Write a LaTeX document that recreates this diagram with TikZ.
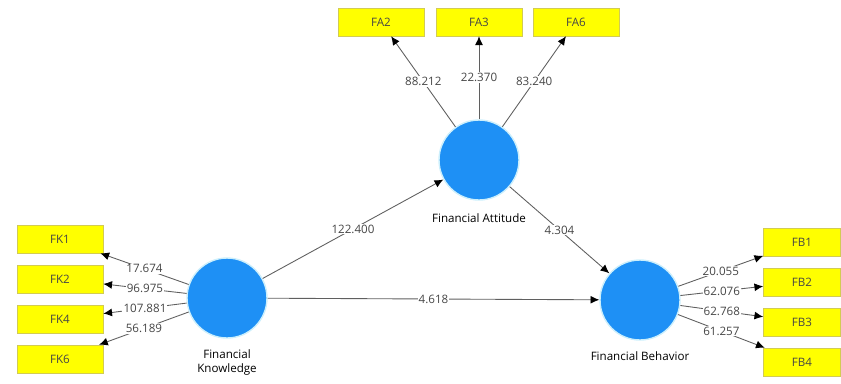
\documentclass[tikz,border=0pt]{standalone}
\usepackage{fontspec}
\setmainfont{Open Sans}
\usepackage{tikz}
\usetikzlibrary{arrows.meta}

\definecolor{lvblue}{RGB}{30,144,245}
\definecolor{itemyellow}{RGB}{255,255,0}
\definecolor{linegray}{RGB}{95,95,95}
\definecolor{textgray}{RGB}{70,70,70}

\tikzset{
  latent/.style={circle, fill=lvblue, draw=cyan!20, line width=0.8pt,
                 minimum size=1.6cm, inner sep=0pt, text=textgray},
  indicator/.style={rectangle, fill=itemyellow, draw=yellow!60!gray, line width=0.3pt,
                    minimum width=1.72cm, minimum height=0.56cm, inner sep=0pt, text=textgray},
  loading/.style={draw=linegray, line width=0.5pt, -{Latex[length=5pt,width=4.5pt,black]}},
  coef/.style={midway, fill=white, inner sep=0.6pt, text=textgray}
}

\begin{document}
\begin{tikzpicture}[x=0.02cm, y=-0.02cm, font=\fontsize{6.6}{7.7}\selectfont]
        \useasboundingbox (0,0) rectangle (841,383);                       %
        \node [latent, label={[label distance=0.14cm]below:Financial Attitude}]  (fa) at (479,160) {};
        \node [latent, label={[label distance=0.1cm, align=center]below:Financial\\Knowledge}] (fk) at (227,298) {};
        \node [latent, label={[label distance=0.1cm]below:Financial Behavior}]  (fb) at (640,300) {};
        % FA items
        \node [indicator] (fa2) at (381,22) {FA2};                          %
        \node [indicator] (fa3) at (479,22) {FA3};                          %
        \node [indicator] (fa6) at (576,22) {FA6};                          %
        % FK items
        \node [indicator] (fk1) at (60,239) {FK1};                          %
        \node [indicator] (fk2) at (60,279) {FK2};                          %
        \node [indicator] (fk4) at (60,319) {FK4};                          %
        \node [indicator] (fk6) at (60,359) {FK6};                          %
        % FB items
        \node [indicator, minimum width=1.54cm] (fb1) at (802,242) {FB1};   %
        \node [indicator, minimum width=1.54cm] (fb2) at (802,282) {FB2};   %
        \node [indicator, minimum width=1.54cm] (fb3) at (802,322) {FB3};   %
        \node [indicator, minimum width=1.54cm] (fb4) at (802,362) {FB4};   %
        % outer loadings
        \draw [loading] (fa) -- node[coef] {88.212}  (fa2);                 %
        \draw [loading] (fa) -- node[coef] {22.370}  (fa3);                 %
        \draw [loading] (fa) -- node[coef] {83.240}  (fa6);                 %
        \draw [loading] (fk) -- node[coef] {17.674}  (fk1);                 %
        \draw [loading] (fk) -- node[coef] {96.975}  (fk2);                 %
        \draw [loading] (fk) -- node[coef] {107.881} (fk4);                 %
        \draw [loading] (fk) -- node[coef] {56.189}  (fk6);                 %
        \draw [loading] (fb) -- node[coef] {20.055}  (fb1);                 %
        \draw [loading] (fb) -- node[coef] {62.076}  (fb2);                 %
        \draw [loading] (fb) -- node[coef] {62.768}  (fb3);                 %
        \draw [loading] (fb) -- node[coef] {61.257}  (fb4);                 %
        % inner paths
        \draw [loading] (fk) -- node[coef] {122.400} (fa);                  %
        \draw [loading] (fk) -- node[coef] {4.618}   (fb);                  %
        \draw [loading] (fa) -- node[coef] {4.304}   (fb);                  %
\end{tikzpicture}
\end{document}
